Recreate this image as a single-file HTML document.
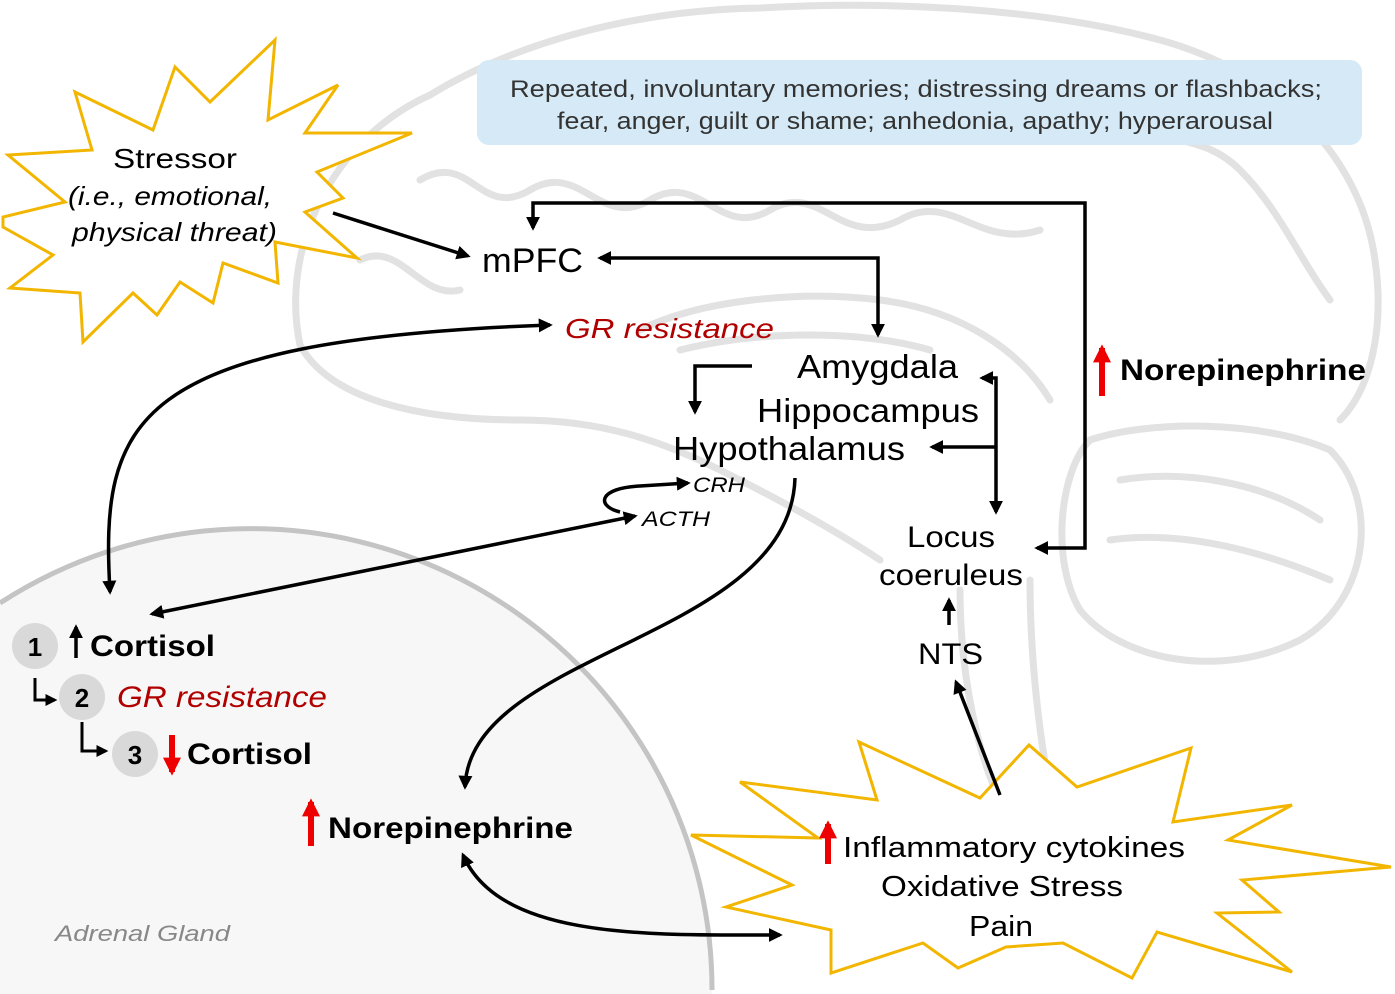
<!DOCTYPE html>
<html><head><meta charset="utf-8"><style>
html,body{margin:0;padding:0;background:#fff;width:1395px;height:994px;overflow:hidden;}
svg{display:block;font-family:"Liberation Sans",Arial,sans-serif;}
</style></head><body>
<svg width="1395" height="994" viewBox="0 0 1395 994" xmlns="http://www.w3.org/2000/svg" overflow="hidden">
<defs>
<marker id="a" viewBox="0 0 10 10" refX="8" refY="5" markerWidth="4" markerHeight="4" orient="auto-start-reverse"><path d="M0,0 L10,5 L0,10 z" fill="#000"/></marker>
<marker id="r" viewBox="0 0 10 10" refX="8" refY="5" markerWidth="3" markerHeight="3" orient="auto"><path d="M0,0 L10,5 L0,10 z" fill="#e00"/></marker>
</defs>
<rect width="1395" height="994" fill="#fff"/>
<!-- brain faint -->
<g fill="none" stroke="#e2e2e2" stroke-width="7" stroke-linecap="round">
<path d="M300,345 C280,250 330,140 430,95 C520,40 640,10 760,8 C900,0 1050,10 1160,40 C1270,70 1360,150 1375,260 C1385,330 1370,390 1340,420"/>
<path d="M300,345 C330,400 420,420 520,420 C600,420 660,440 720,470 C800,510 850,540 880,560"/>
<path d="M1090,440 C1150,420 1260,420 1330,450 C1380,500 1370,600 1300,640 C1220,680 1120,660 1080,610 C1050,560 1060,470 1090,440"/>
<path d="M960,590 C960,680 980,760 1000,800 M1030,580 C1030,660 1040,740 1050,790"/>
<path d="M640,330 C700,300 800,290 880,300 C960,310 1020,350 1050,400"/>
<path d="M680,350 C760,330 860,330 930,350"/>
<path d="M420,180 C470,150 480,220 530,190 C580,160 600,230 650,200 C700,170 720,240 770,210 C820,180 840,250 900,220 C950,190 980,250 1040,230"/>
<path d="M360,260 C400,240 420,300 460,290 M620,130 C660,100 700,150 740,120 C780,90 820,150 860,120 C900,90 940,150 990,120"/>
<path d="M1120,110 C1160,150 1200,130 1240,170 C1280,210 1300,260 1330,300"/>
<path d="M1120,480 C1180,470 1260,480 1320,520 M1110,540 C1180,530 1260,550 1330,580"/>
</g>
<!-- adrenal (circle center 251,990 r 461, clipped to frame) -->
<path d="M0,603 A461,461 0 0 1 712,990 L712,994 L0,994 Z" fill="#f7f7f7"/>
<path d="M0,603 A461,461 0 0 1 712,990" fill="none" stroke="#c4c4c4" stroke-width="5"/>
<!-- blue box -->
<rect x="477" y="60" width="885" height="85" rx="12" fill="#d5eaf6"/>
<text x="510" y="97" font-size="24" fill="#333" textLength="812" lengthAdjust="spacingAndGlyphs">Repeated, involuntary memories; distressing dreams or flashbacks;</text>
<text x="557" y="129" font-size="24" fill="#333" textLength="716" lengthAdjust="spacingAndGlyphs">fear, anger, guilt or shame; anhedonia, apathy; hyperarousal</text>
<!-- bursts -->
<polygon fill="#fff" stroke="#f2b600" stroke-width="3" points="275,40 268,120 338,85 305,133 412,133 317,172 343,198 305,212 357,258 275,242 278,283 223,263 213,303 180,282 157,315 133,293 83,342 80,293 10,288 53,255 3,227 3,217 65,202 8,155 92,150 75,92 153,130 175,67 210,102"/>
<polygon fill="#fff" stroke="#f2b600" stroke-width="3" points="859,742 980,798 1029,745 1077,787 1191,748 1173,822 1292,805 1228,840 1391,867 1242,880 1279,912 1217,913 1292,972 1157,932 1132,978 1063,943 1006,947 958,968 923,943 831,973 831,930 726,907 792,885 691,835 818,838 740,782 877,800"/>
<!-- arrows -->
<g fill="none" stroke="#000" stroke-width="3.5">
<path d="M333,213 L468,256" marker-end="url(#a)"/>
<path d="M1037,548 L1085,548 L1085,203 L533,203 L533,228" marker-start="url(#a)" marker-end="url(#a)"/>
<path d="M600,258 L878,258 L878,335" marker-start="url(#a)" marker-end="url(#a)"/>
<path d="M752,366 L695,366 L695,412" marker-end="url(#a)"/>
<path d="M982,378 L996,378 L996,512" marker-start="url(#a)" marker-end="url(#a)"/>
<path d="M996,447 L932,447" marker-end="url(#a)"/>
<path d="M949,625 L949,600" marker-end="url(#a)"/>
<path d="M1000,795 L956,682" marker-end="url(#a)"/>
<path d="M152,614 L635,516" marker-start="url(#a)" marker-end="url(#a)"/>
<path d="M620,512 C596,506 598,488 640,486 L688,483" marker-end="url(#a)"/>
<path d="M110,592 C100,420 130,340 550,325" marker-start="url(#a)" marker-end="url(#a)"/>
<path d="M795,478 C790,640 470,650 465,787" marker-end="url(#a)"/>
<path d="M463,855 C500,940 650,935 780,935" marker-start="url(#a)" marker-end="url(#a)"/>
<path d="M76,658 L76,627" marker-end="url(#a)"/>
<path d="M35,678 L35,700 L55,700" stroke-width="3" marker-end="url(#a)"/>
<path d="M82,722 L82,751 L106,751" stroke-width="3" marker-end="url(#a)"/>
</g>
<g stroke="#e00" stroke-width="6" fill="none">
<path d="M1102,396 L1102,348" marker-end="url(#r)"/>
<path d="M311,846 L311,802" marker-end="url(#r)"/>
<path d="M828,864 L828,824" marker-end="url(#r)"/>
<path d="M172,735 L172,772" marker-end="url(#r)"/>
</g>
<!-- text -->
<text x="113" y="168" font-size="28" textLength="124" lengthAdjust="spacingAndGlyphs">Stressor</text>
<text x="68" y="205" font-size="26" font-style="italic" textLength="204" lengthAdjust="spacingAndGlyphs">(i.e., emotional,</text>
<text x="72" y="241" font-size="26" font-style="italic" textLength="205" lengthAdjust="spacingAndGlyphs">physical threat)</text>
<text x="482" y="272" font-size="34" textLength="101" lengthAdjust="spacingAndGlyphs">mPFC</text>
<text x="565" y="338" font-size="28" font-style="italic" fill="#b00000" textLength="209" lengthAdjust="spacingAndGlyphs">GR resistance</text>
<text x="797" y="378" font-size="33" textLength="161" lengthAdjust="spacingAndGlyphs">Amygdala</text>
<text x="757" y="422" font-size="33" textLength="222" lengthAdjust="spacingAndGlyphs">Hippocampus</text>
<text x="673" y="460" font-size="33" textLength="232" lengthAdjust="spacingAndGlyphs">Hypothalamus</text>
<text x="693" y="492" font-size="21" font-style="italic" textLength="52" lengthAdjust="spacingAndGlyphs">CRH</text>
<text x="642" y="526" font-size="21" font-style="italic" textLength="68" lengthAdjust="spacingAndGlyphs">ACTH</text>
<text x="907" y="547" font-size="30" textLength="88" lengthAdjust="spacingAndGlyphs">Locus</text>
<text x="879" y="585" font-size="30" textLength="144" lengthAdjust="spacingAndGlyphs">coeruleus</text>
<text x="918" y="664" font-size="30" textLength="65" lengthAdjust="spacingAndGlyphs">NTS</text>
<text x="1120" y="380" font-size="30" font-weight="bold" textLength="246" lengthAdjust="spacingAndGlyphs">Norepinephrine</text>
<text x="328" y="838" font-size="30" font-weight="bold" textLength="245" lengthAdjust="spacingAndGlyphs">Norepinephrine</text>
<circle cx="35" cy="646" r="23" fill="#d9d9d9"/>
<text x="35" y="656" font-size="26" font-weight="bold" text-anchor="middle">1</text>
<text x="90" y="656" font-size="30" font-weight="bold" textLength="125" lengthAdjust="spacingAndGlyphs">Cortisol</text>
<circle cx="82" cy="697" r="23" fill="#d9d9d9"/>
<text x="82" y="707" font-size="26" font-weight="bold" text-anchor="middle">2</text>
<text x="117" y="707" font-size="30" font-style="italic" fill="#b00000" textLength="210" lengthAdjust="spacingAndGlyphs">GR resistance</text>
<circle cx="135" cy="754" r="23" fill="#d9d9d9"/>
<text x="135" y="764" font-size="26" font-weight="bold" text-anchor="middle">3</text>
<text x="187" y="764" font-size="30" font-weight="bold" textLength="125" lengthAdjust="spacingAndGlyphs">Cortisol</text>
<text x="55" y="941" font-size="22" font-style="italic" fill="#888" textLength="175" lengthAdjust="spacingAndGlyphs">Adrenal Gland</text>
<text x="843" y="857" font-size="29" textLength="342" lengthAdjust="spacingAndGlyphs">Inflammatory cytokines</text>
<text x="881" y="896" font-size="29" textLength="242" lengthAdjust="spacingAndGlyphs">Oxidative Stress</text>
<text x="969" y="936" font-size="29" textLength="64" lengthAdjust="spacingAndGlyphs">Pain</text>
</svg>
</body></html>
